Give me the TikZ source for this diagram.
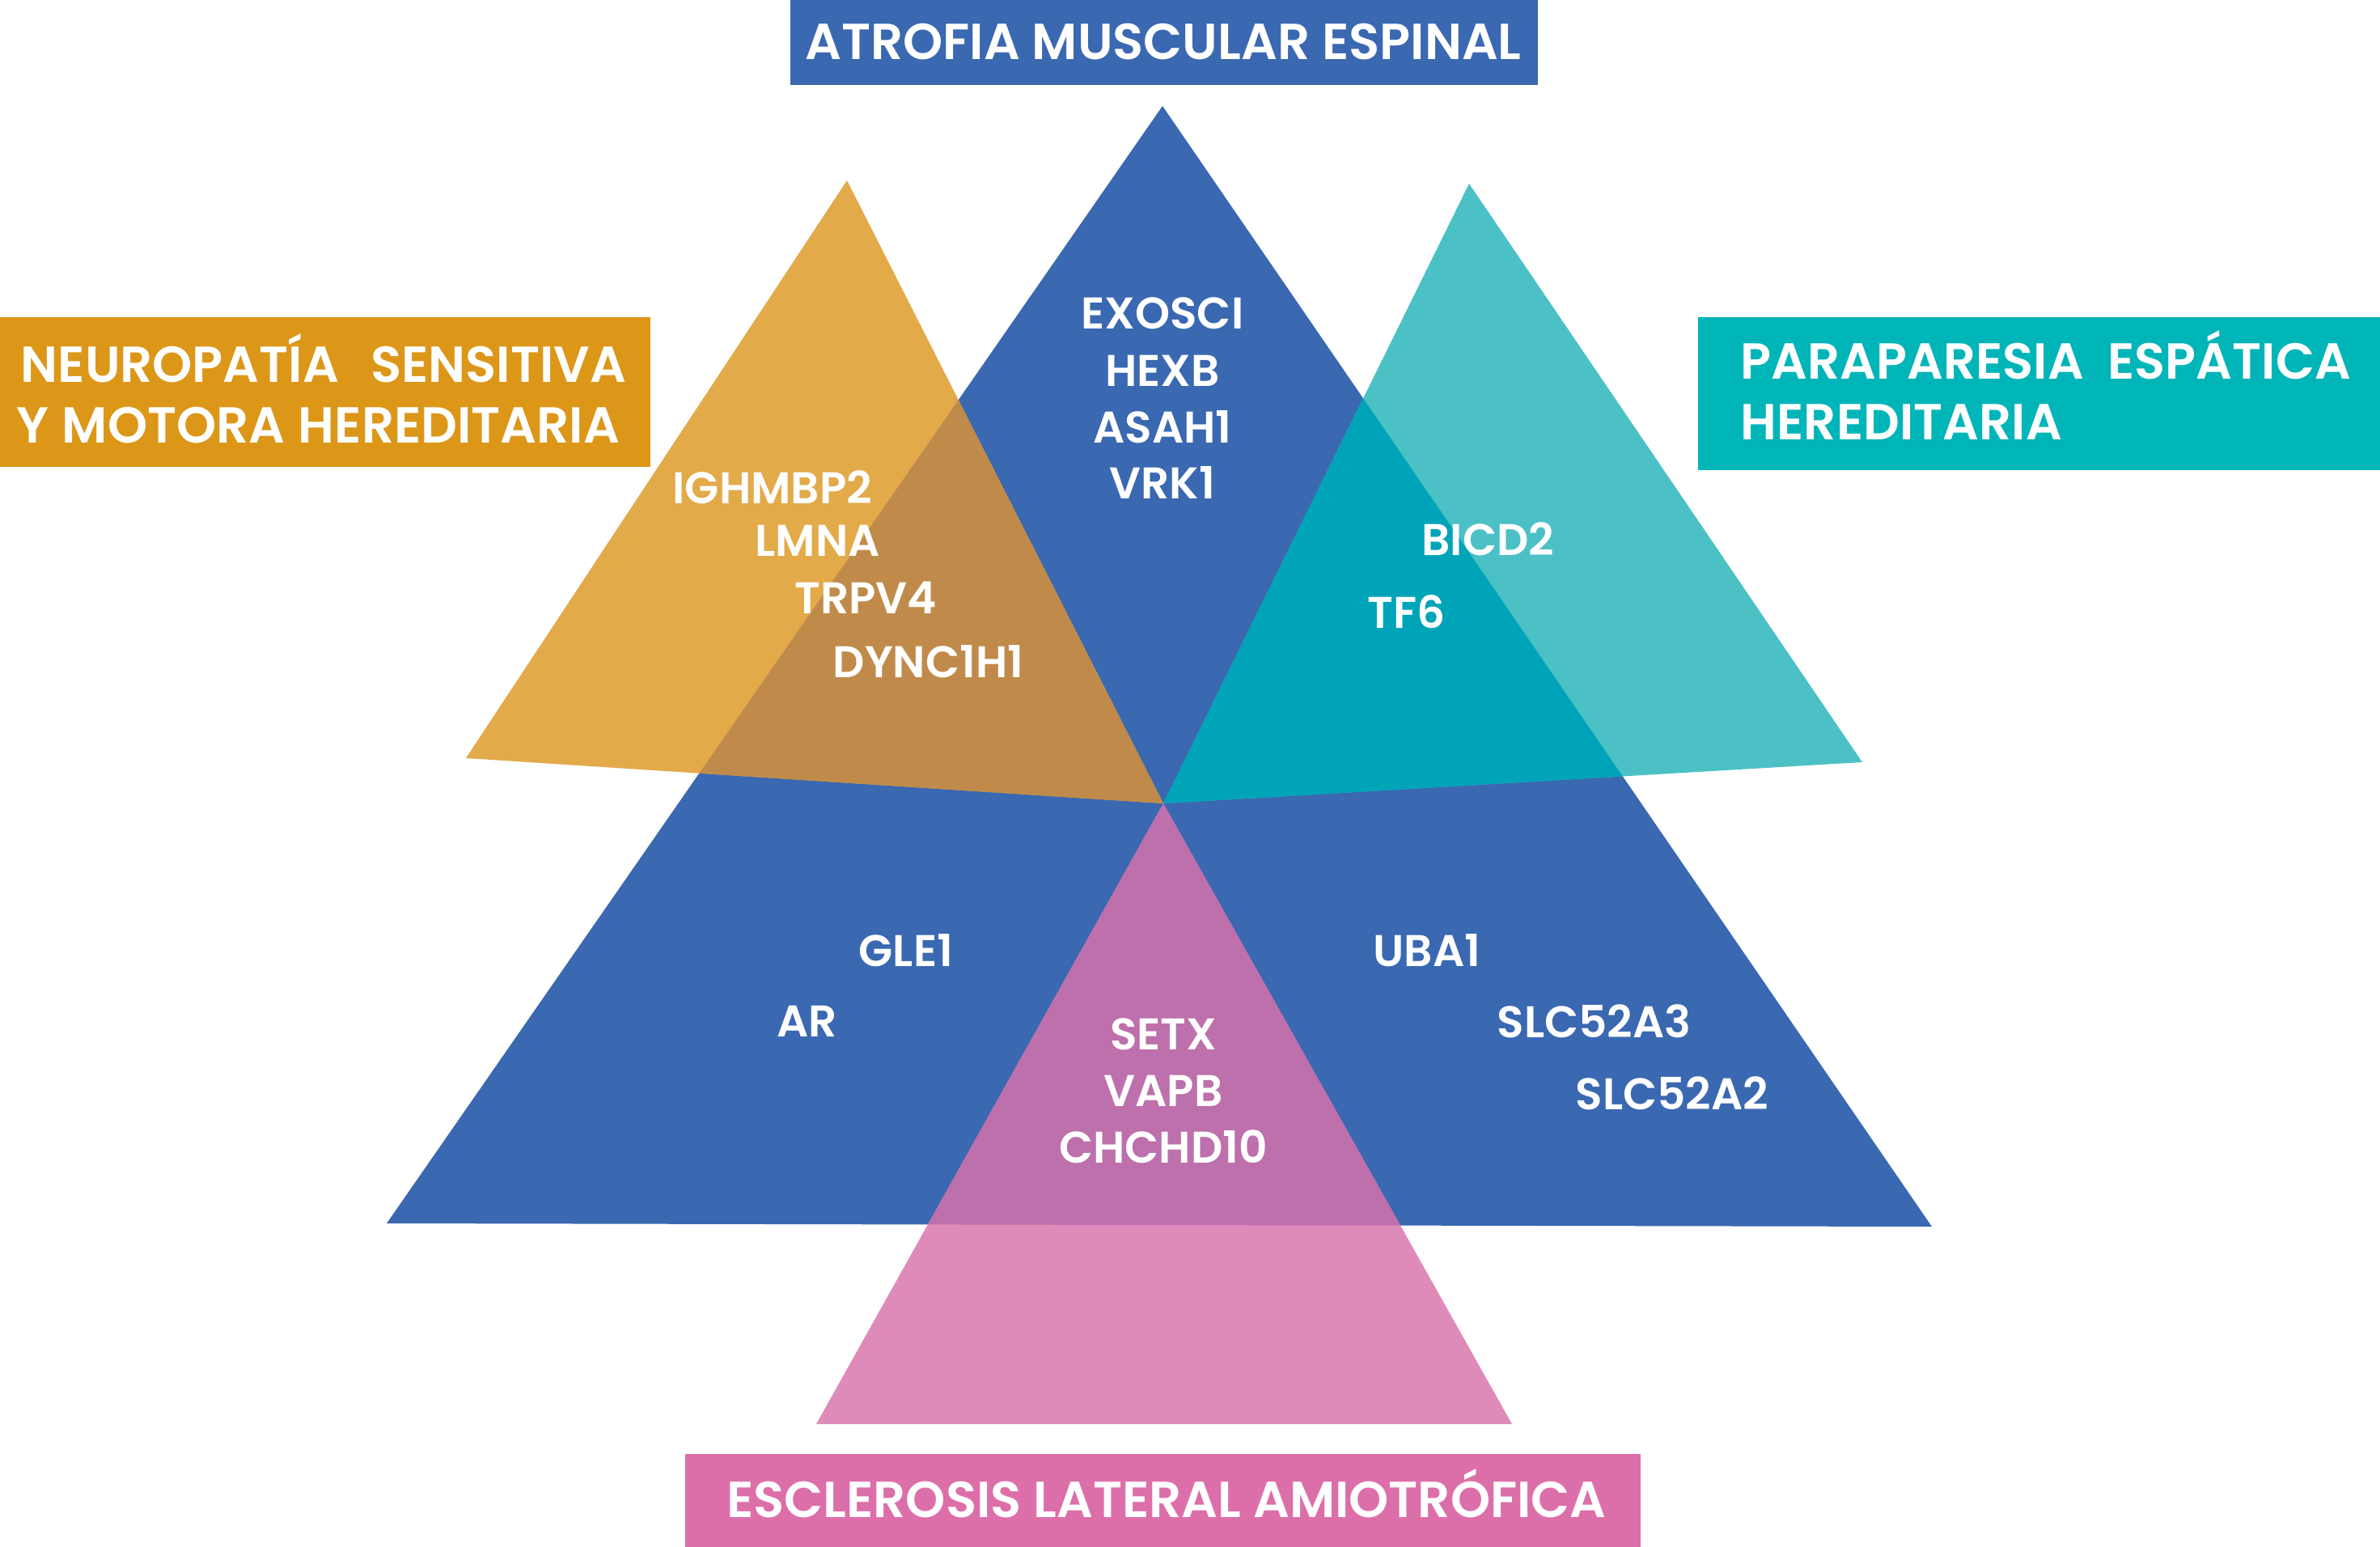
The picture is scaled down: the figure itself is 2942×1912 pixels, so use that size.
\documentclass[tikz,border=0pt]{standalone}
\usepackage{fontspec}
\setmainfont{Poppins}[BoldFont={Poppins SemiBold}]
\usepackage{xcolor}

\definecolor{ameblue}{HTML}{3A68B1}
\definecolor{nsmbox}{HTML}{DC9719}
\definecolor{nsmtri}{HTML}{E3AA4A}
\definecolor{nsmmix}{HTML}{C08B4A}
\definecolor{pebox}{HTML}{00B5B8}
\definecolor{petri}{HTML}{4BC1C6}
\definecolor{pemix}{HTML}{00A4B9}
\definecolor{elabox}{HTML}{DC6FAA}
\definecolor{elatri}{HTML}{DE8BBA}
\definecolor{elamix}{HTML}{BD70AC}

\tikzset{
  gene/.style={text=white, inner sep=0pt, font=\fontsize{15.6}{18}\selectfont\bfseries},
  heading/.style={text=white, inner sep=0pt, font=\fontsize{17.8}{21}\selectfont\bfseries}
}

\begin{document}
\begin{tikzpicture}[x=0.01cm, y=-0.01cm]
  \useasboundingbox (0,0) rectangle (2942,1912);

  % Corners of the triangles
  \coordinate (ameTop) at (1437,131);
  \coordinate (ameLeft) at (478,1512);
  \coordinate (ameRight) at (2388,1516);
  \coordinate (nsmTop) at (1047,223);
  \coordinate (nsmLeft) at (576,937);
  \coordinate (pivot) at (1438,993);
  \coordinate (peTop) at (1816,227);
  \coordinate (peRight) at (2302,942);
  \coordinate (elaLeft) at (1009,1760);
  \coordinate (elaRight) at (1869,1760);

  % Atrofia muscular espinal (big triangle)
  \fill[ameblue] (ameTop) -- (ameLeft) -- (ameRight) -- cycle;

  % Neuropatia, paraparesia, ELA
  \fill[nsmtri] (nsmTop) -- (nsmLeft) -- (pivot) -- cycle;
  \fill[petri] (peTop) -- (pivot) -- (peRight) -- cycle;
  \fill[elatri] (pivot) -- (elaLeft) -- (elaRight) -- cycle;

  % Overlaps with the big triangle
  \begin{scope}
    \clip (ameTop) -- (ameLeft) -- (ameRight) -- cycle;
    \fill[nsmmix] (nsmTop) -- (nsmLeft) -- (pivot) -- cycle;
    \fill[pemix] (peTop) -- (pivot) -- (peRight) -- cycle;
    \fill[elamix] (pivot) -- (elaLeft) -- (elaRight) -- cycle;
  \end{scope}

  % Heading boxes
  \fill[ameblue] (977,0) rectangle (1901,105);
  \node[heading, anchor=base] (ameTitle) at (1438,73) {ATROFIA MUSCULAR ESPINAL};

  \fill[nsmbox] (0,392) rectangle (804,577);
  \node[heading, anchor=base west] (nsmTitleA) at (25,472) {\makebox[7.48cm][s]{NEUROPATÍA SENSITIVA}};
  \node[heading, anchor=base west] (nsmTitleB) at (20,547) {\makebox[7.45cm][s]{Y MOTORA HEREDITARIA}};

  \fill[pebox] (2099,392) rectangle (2942,581);
  \node[heading, anchor=base west] (peTitleA) at (2151,468) {\makebox[7.54cm][s]{PARAPARESIA ESPÁTICA}};
  \node[heading, anchor=base west] (peTitleB) at (2151,543) {HEREDITARIA};

  \fill[elabox] (847,1797) rectangle (2028,1912);
  \node[heading, anchor=base] (elaTitle) at (1442,1875) {ESCLEROSIS LATERAL AMIOTRÓFICA};

  % Genes: atrofia muscular espinal only
  \node[gene, anchor=base] (exosci) at (1437,406) {EXOSCI};
  \node[gene, anchor=base] (hexb) at (1437,477) {HEXB};
  \node[gene, anchor=base] (asah) at (1437,547) {ASAH1};
  \node[gene, anchor=base] (vrk) at (1437,616) {VRK1};

  % Genes: neuropatia
  \node[gene, anchor=base west] (ighmbp) at (831,622) {IGHMBP2};
  \node[gene, anchor=base west] (lmna) at (933,687) {LMNA};
  \node[gene, anchor=base west] (trpv) at (982,758) {TRPV4};
  \node[gene, anchor=base west] (dync) at (1029,837) {DYNC1H1};

  % Genes: paraparesia
  \node[gene, anchor=base west] (bicd) at (1757,686) {BICD2};
  \node[gene, anchor=base west] (tf) at (1690,776) {TF6};

  % Genes: lower part
  \node[gene, anchor=base west] (gle) at (1061,1194) {GLE1};
  \node[gene, anchor=base west] (ar) at (960,1281) {AR};
  \node[gene, anchor=base] (setx) at (1438,1297) {SETX};
  \node[gene, anchor=base] (vapb) at (1438,1367) {VAPB};
  \node[gene, anchor=base] (chchd) at (1438,1437) {CHCHD10};
  \node[gene, anchor=base west] (uba) at (1697,1194) {UBA1};
  \node[gene, anchor=base west] (slcA) at (1850,1282) {SLC52A3};
  \node[gene, anchor=base west] (slcB) at (1947,1371) {SLC52A2};
\end{tikzpicture}
\end{document}
